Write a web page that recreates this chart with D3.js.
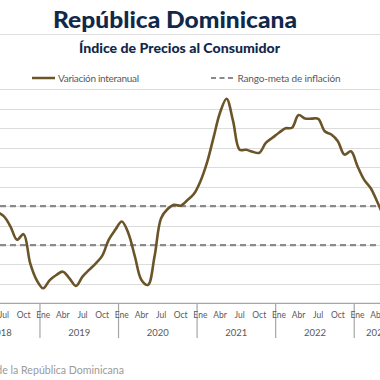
<!DOCTYPE html>
<html><head><meta charset="utf-8">
<script src="https://cdn.jsdelivr.net/npm/d3@7"></script>
<style>body{margin:0;background:#fff}svg{display:block}</style>
</head><body>
<script>
// Data: interannual CPI variation (%), monthly from Jun 2018
const startYear = 2018, startMonth = 5; // Jun 2018 (0-based month)
const inflation = [4.70, 4.47, 3.95, 3.27, 3.56, 2.07, 1.20,
  0.78, 1.20, 1.46, 1.63, 1.29, 0.90, 1.38, 1.72, 2.05, 2.44, 3.27, 3.78,
  4.21, 3.61, 2.41, 1.20, 0.95, 2.41, 4.38, 4.85, 5.07, 5.02, 5.30, 5.62,
  6.27, 7.22, 8.51, 9.80, 10.52, 9.37, 7.90, 7.90, 7.79, 7.74, 8.25, 8.51,
  8.77, 9.00, 9.03, 9.68, 9.50, 9.50, 9.49, 8.85, 8.68, 8.34, 7.65, 7.82,
  7.05, 6.36, 5.93, 5.24, 4.45];
const targetRange = [3, 5];
const years = [2018, 2019, 2020, 2021, 2022, 2023];
const axisMonths = 67; // Jan 2018 .. Jul 2023
const monthTicks = [0, 3, 6, 9];
const monthNames = ["Ene", "Abr", "Jul", "Oct"];
const yTicks = [1,2,3,4,5,6,7,8,9,10,11];

const W = 380, H = 380;
const svg = d3.select("body").append("svg").attr("width", W).attr("height", H);

const x = d3.scaleLinear().domain([0, 72]).range([-38.6, -38.6 + 72 * 6.547]);
const y = d3.scaleLinear().domain([0, 11]).range([303.4, 89.4]);

const navy = "#10294a", grey = "#595959";

// Title
svg.append("text").attr("x", 175).attr("y", 28).attr("text-anchor", "middle")
  .attr("font-family", "Lato, sans-serif").attr("font-weight", 900).attr("font-size", 22)
  .attr("textLength", 244).attr("lengthAdjust", "spacingAndGlyphs")
  .attr("fill", navy).text("República Dominicana");
svg.append("line").attr("x1", 0).attr("x2", W).attr("y1", 34.5).attr("y2", 34.5)
  .attr("stroke", "#e0e0e0");
svg.append("text").attr("x", 179.5).attr("y", 53).attr("text-anchor", "middle")
  .attr("font-family", "Lato, sans-serif").attr("font-weight", 900).attr("font-size", 12.5)
  .attr("textLength", 201).attr("lengthAdjust", "spacingAndGlyphs")
  .attr("fill", navy).text("Índice de Precios al Consumidor");

// Legend
const lg = svg.append("g").attr("font-family", "Lato, sans-serif").attr("font-size", 10).attr("fill", grey);
lg.append("line").attr("x1", 32).attr("x2", 55).attr("y1", 78).attr("y2", 78)
  .attr("stroke", "#6b5528").attr("stroke-width", 2.5);
lg.append("text").attr("x", 58).attr("y", 81.5).attr("textLength", 81).text("Variación interanual");
lg.append("line").attr("x1", 211).attr("x2", 236).attr("y1", 78).attr("y2", 78)
  .attr("stroke", "#8a8a8a").attr("stroke-width", 2).attr("stroke-dasharray", "5,3.5");
lg.append("text").attr("x", 237.5).attr("y", 81.5).attr("textLength", 103).text("Rango-meta de inflación");

// Gridlines
svg.append("g").selectAll("line").data(yTicks).join("line")
  .attr("x1", 0).attr("x2", W).attr("y1", d => Math.round(y(d)) + 0.5).attr("y2", d => Math.round(y(d)) + 0.5)
  .attr("stroke", "#dcdcdc").attr("stroke-width", 1.2);

// Target range
svg.append("g").selectAll("line").data(targetRange).join("line")
  .attr("x1", 0).attr("x2", W).attr("y1", d => y(d)).attr("y2", d => y(d))
  .attr("stroke", "#8a8a8a").attr("stroke-width", 2.2).attr("stroke-dasharray", "6,4");

// X axis
const ax = svg.append("g").attr("font-family", "Lato, sans-serif").attr("fill", grey);
ax.append("line").attr("x1", 0).attr("x2", W).attr("y1", y(0)).attr("y2", y(0))
  .attr("stroke", "#a6a6a6").attr("stroke-width", 1.2);
ax.selectAll(".sep").data(years).join("line").attr("class", "sep")
  .attr("x1", d => x((d - startYear) * 12)).attr("x2", d => x((d - startYear) * 12))
  .attr("y1", y(0)).attr("y2", 338).attr("stroke", "#a6a6a6").attr("stroke-width", 1.2);
const mt = [];
years.forEach(yr => monthTicks.forEach((m, j) => {
  const mi = (yr - startYear) * 12 + m;
  if (mi < axisMonths) mt.push({ m: mi, t: monthNames[j] });
}));
ax.selectAll(".mt").data(mt).join("text").attr("class", "mt")
  .attr("x", d => x(d.m + 0.5)).attr("y", 318).attr("text-anchor", "middle")
  .attr("font-size", 8.5).text(d => d.t);
ax.selectAll(".yr").data(years).join("text").attr("class", "yr")
  .attr("x", d => {
    const s = (d - startYear) * 12, e = Math.min(s + 12, axisMonths);
    return x((s + e) / 2);
  }).attr("y", 336).attr("text-anchor", "middle")
  .attr("font-size", 9.5).text(d => d);

// Line
const pts = inflation.map((v, i) => ({ m: startMonth + i, v }));
const line = d3.line().x(d => x(d.m + 0.5)).y(d => y(d.v)).curve(d3.curveCatmullRom.alpha(0.5));
svg.append("path").datum(pts).attr("d", line).attr("fill", "none")
  .attr("stroke", "#6b5528").attr("stroke-width", 2.6).attr("stroke-linejoin", "round");

// Source
svg.append("text").attr("x", 124).attr("y", 374).attr("text-anchor", "end")
  .attr("font-family", "Lato, sans-serif").attr("font-size", 10.6).attr("fill", "#9a9a9a")
  .text("Fuente: Banco Central de la República Dominicana");
</script>
</body></html>
